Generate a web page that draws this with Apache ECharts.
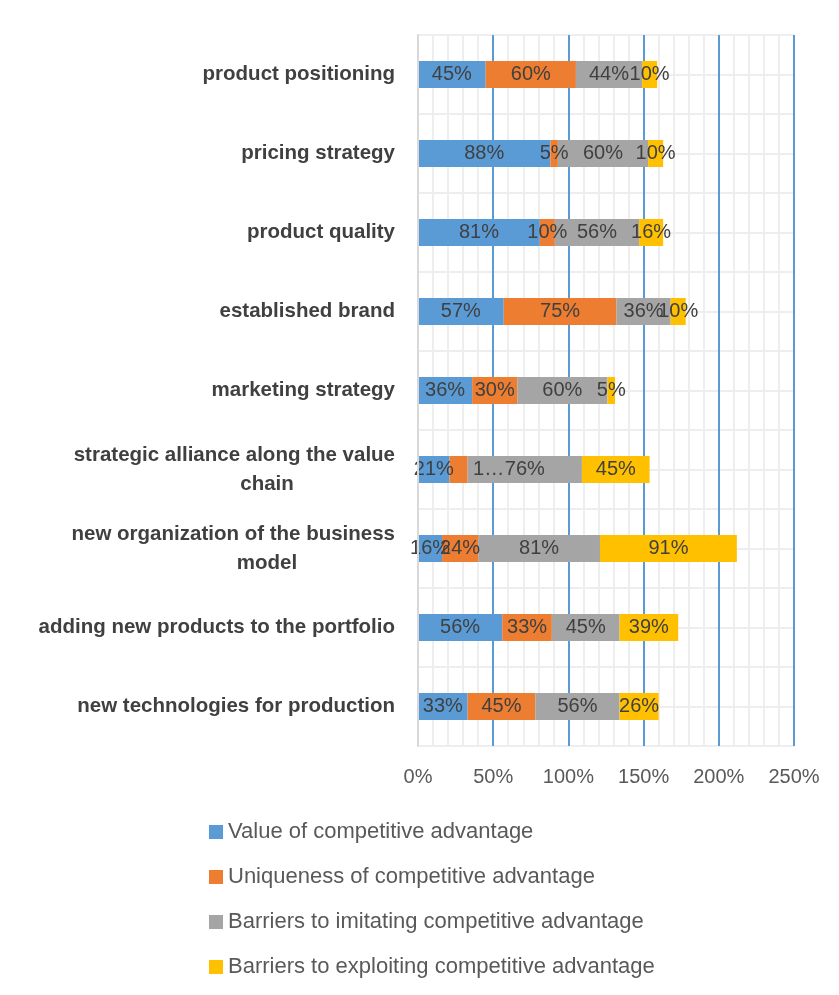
<!DOCTYPE html>
<html>
<head>
<meta charset="utf-8">
<script src="https://cdn.jsdelivr.net/npm/echarts@6/dist/echarts.min.js"></script>
<style>
  html, body { margin: 0; padding: 0; background: #fff; }
  #frame { position: absolute; left: 9px; top: 7px; width: 900px; height: 1100px; border-left: 2px solid #d9d9d9; border-top: 2px solid #d9d9d9; }
  #chart { position: absolute; left: 0; top: 0; width: 839px; height: 995px; }
</style>
</head>
<body>
<div id="frame"></div>
<div id="chart"></div>
<script>
// Categories top to bottom
const categories = [
  'product positioning',
  'pricing strategy',
  'product quality',
  'established brand',
  'marketing strategy',
  'strategic alliance along the value\nchain',
  'new organization of the business\nmodel',
  'adding new products to the portfolio',
  'new technologies for production'
];
const seriesNames = [
  'Value of competitive advantage',
  'Uniqueness of competitive advantage',
  'Barriers to imitating competitive advantage',
  'Barriers to exploiting competitive advantage'
];
const valueAdv    = [45, 88, 81, 57, 36, 21, 16, 56, 33];
const uniqueness  = [60, 5, 10, 75, 30, 12, 24, 33, 45];
const imitating   = [44, 60, 56, 36, 60, 76, 81, 45, 56];
const exploiting  = [10, 10, 16, 10, 5, 45, 91, 39, 26];
const xTicks = [0, 50, 100, 150, 200, 250];

const colors = ['#5b9bd5', '#ed7d31', '#a5a5a5', '#ffc000'];
const FONT = '"Liberation Sans", Arial, sans-serif';

const chart = echarts.init(document.getElementById('chart'));

function makeSeries(name, values, idx) {
  return {
    name: name,
    type: 'bar',
    stack: 'total',
    barWidth: 27,
    itemStyle: { color: colors[idx] },
    label: {
      show: true, position: 'inside', formatter: '{c}%',
      color: '#404040', fontSize: 20, fontFamily: FONT
    },
    data: values.map((v, i) => {
      // Excel cut the narrow 12% label down to "1…"
      if (idx === 1 && i === 5) {
        return { value: v, label: { width: 40, overflow: 'truncate', ellipsis: '…', offset: [30, 0] } };
      }
      return v;
    })
  };
}

chart.setOption({
  backgroundColor: '#fff',
  animation: false,
  grid: { left: 418, right: 45, top: 35, bottom: 249 },
  legend: {
    orient: 'vertical', left: 204, top: 816,
    itemWidth: 14, itemHeight: 14, itemGap: 23, icon: 'rect',
    textStyle: { color: '#595959', fontSize: 22, fontFamily: FONT, lineHeight: 22 },
    data: seriesNames
  },
  xAxis: {
    type: 'value', min: xTicks[0], max: xTicks[xTicks.length - 1], interval: 50,
    axisLine: { show: false }, axisTick: { show: false },
    axisLabel: { formatter: '{value}%', color: '#595959', fontSize: 20, fontFamily: FONT, margin: 21 },
    splitLine: { show: true, lineStyle: { color: '#5b9bd5', width: 2 } },
    minorTick: { show: false, splitNumber: 5 },
    minorSplitLine: { show: true, lineStyle: { color: '#eeeeee', width: 2 } }
  },
  yAxis: [{
    type: 'category', data: categories, inverse: true, z: 5,
    axisLine: { show: true, lineStyle: { color: '#d9d9d9', width: 2 } },
    axisTick: { show: false },
    splitLine: { show: false },
    axisLabel: {
      color: '#404040', fontSize: 20.5, fontWeight: 'bold', fontFamily: FONT,
      margin: 23, lineHeight: 29, width: 256, overflow: 'none',
      formatter: v => {
        const parts = v.split('\n');
        return parts.length > 1 ? parts[0] + '\n{c|' + parts[1] + '}' : v;
      },
      rich: {
        c: { align: 'center', color: '#404040', fontSize: 20.5, fontWeight: 'bold', fontFamily: FONT, lineHeight: 29 }
      }
    }
  }, {
    // light horizontal guides at category centres and boundaries
    type: 'value', min: 0, max: categories.length * 2, interval: 1, position: 'left',
    axisLine: { show: false }, axisTick: { show: false }, axisLabel: { show: false },
    splitLine: { show: true, lineStyle: { color: '#eeeeee', width: 2 } }
  }],
  series: [
    makeSeries(seriesNames[0], valueAdv, 0),
    makeSeries(seriesNames[1], uniqueness, 1),
    makeSeries(seriesNames[2], imitating, 2),
    makeSeries(seriesNames[3], exploiting, 3)
  ]
});
</script>
</body>
</html>
